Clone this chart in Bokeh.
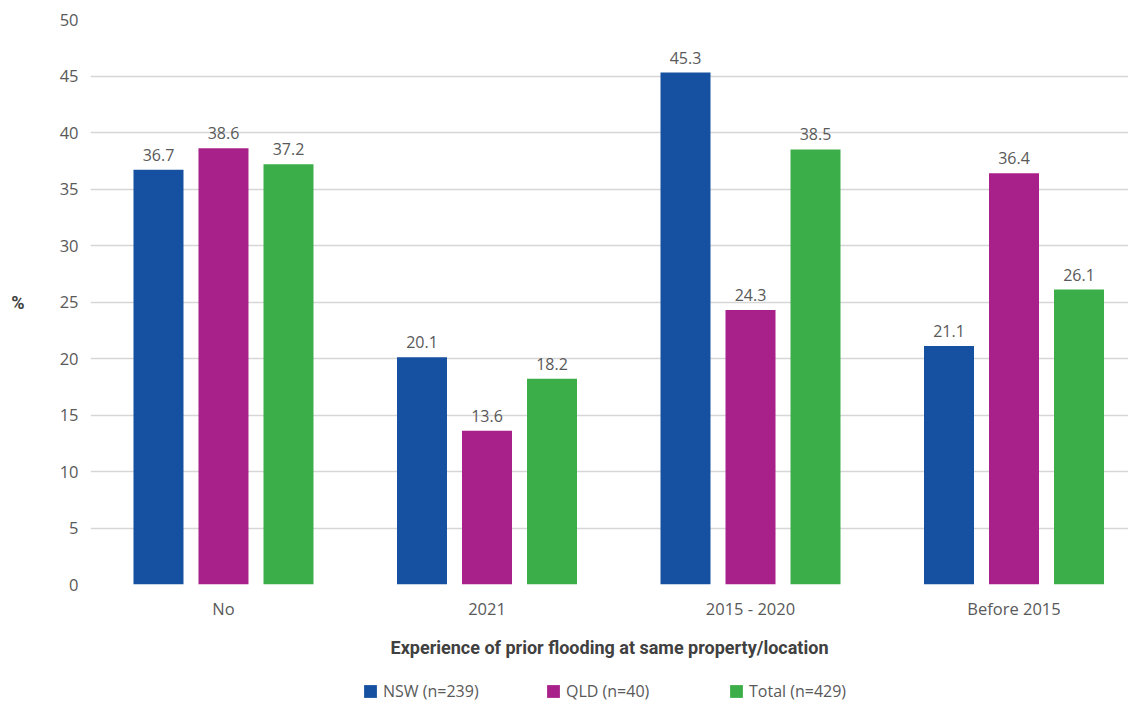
from bokeh.plotting import figure
from bokeh.models import ColumnDataSource, Range1d, FixedTicker, Legend, LegendItem
from bokeh.models import Axis
from bokeh.layouts import column
from bokeh.transform import dodge
from bokeh.core.properties import value
from bokeh.embed import file_html
from bokeh.resources import INLINE

categories = ["No", "2021", "2015 - 2020", "Before 2015"]
nsw = [36.7, 20.1, 45.3, 21.1]
qld = [38.6, 13.6, 24.3, 36.4]
total = [37.2, 18.2, 38.5, 26.1]
series_names = ["NSW (n=239)", "QLD (n=40)", "Total (n=429)"]
colors = ["#1551A0", "#A8218A", "#3CAE49"]
y_ticks = [0, 5, 10, 15, 20, 25, 30, 35, 40, 45, 50]

idx = list(range(len(categories)))
src = ColumnDataSource(dict(idx=idx, nsw=nsw, qld=qld, total=total,
                            nsw_t=[f"{v:.1f}" for v in nsw],
                            qld_t=[f"{v:.1f}" for v in qld],
                            total_t=[f"{v:.1f}" for v in total]))

TEXT = "#595959"
DARK = "#404040"

p = figure(width=1128, height=672, output_backend="svg", toolbar_location=None,
           title=None, x_range=Range1d(-0.5047, 3.4345), y_range=Range1d(0, 50),
           min_border_left=90, min_border_right=0, min_border_top=19,
           min_border_bottom=88)
p.outline_line_color = None
p.background_fill_color = "white"
p.border_fill_color = "white"

step = 65 / 263.5
bw = 50 / 263.5
offsets = [-step, 0, step]
keys = ["nsw", "qld", "total"]
for k, off, c in zip(keys, offsets, colors):
    p.vbar(x=dodge("idx", off, range=p.x_range), top=k, width=bw, bottom=0,
           source=src, fill_color=c, line_color=None)
    p.text(x=dodge("idx", off, range=p.x_range), y=k, text=k + "_t", source=src,
           text_align="center", text_baseline="alphabetic", y_offset=-15,
           text_font=value("Open Sans"), text_font_size="16px", text_color=TEXT)

# axes
p.xaxis.bounds = (-0.5047, 3.367)
p.xaxis.ticker = FixedTicker(ticks=idx)
p.xaxis.major_label_overrides = {i: c for i, c in zip(idx, categories)}
p.xaxis.major_tick_line_color = None
p.xaxis.minor_tick_line_color = None
p.xaxis.major_tick_out = 0
p.xaxis.minor_tick_out = 0
p.xaxis.axis_line_color = None
p.xaxis.major_label_standoff = 12
p.xaxis.major_label_text_font = "Open Sans"
p.xaxis.major_label_text_font_size = "16.5px"
p.xaxis.major_label_text_color = TEXT
p.xaxis.axis_label = "Experience of prior flooding at same property/location"
p.xaxis.axis_label_text_font = "Roboto"
p.xaxis.axis_label_text_font_style = "bold"
p.xaxis.axis_label_text_font_size = "18px"
p.xaxis.axis_label_text_color = DARK
p.xaxis.axis_label_standoff = 14

p.yaxis.ticker = FixedTicker(ticks=y_ticks)
p.yaxis.major_tick_line_color = None
p.yaxis.minor_tick_line_color = None
p.yaxis.major_tick_out = 0
p.yaxis.minor_tick_out = 0
p.yaxis.axis_line_color = None
p.yaxis.major_label_standoff = 12
p.yaxis.major_label_text_font = "Open Sans"
p.yaxis.major_label_text_font_size = "16.5px"
p.yaxis.major_label_text_color = TEXT
p.yaxis.axis_label = "%"
p.yaxis.axis_label_text_font = "Roboto"
p.yaxis.axis_label_text_font_style = "bold"
p.yaxis.axis_label_text_font_size = "18px"
p.yaxis.axis_label_text_color = DARK
p.yaxis.axis_label_standoff = 32
if "axis_label_orientation" in Axis.properties():
    p.yaxis.axis_label_orientation = "horizontal"

p.xgrid.grid_line_color = None
p.ygrid.ticker = FixedTicker(ticks=y_ticks)
p.ygrid.grid_line_color = "#d6d6d6"
p.ygrid.grid_line_width = 1.5

# legend strip below the chart (its series renderers are hidden; only the key shows)
q = figure(width=1128, height=30, output_backend="svg", toolbar_location=None,
           title=None, x_range=Range1d(0, 1), y_range=Range1d(0, 1),
           x_axis_location=None, y_axis_location=None,
           min_border_left=0, min_border_right=0, min_border_top=0,
           min_border_bottom=0)
q.outline_line_color = None
q.grid.visible = False
items = []
for k, c, name in zip(keys, colors, series_names):
    r = q.vbar(x="idx", top=k, width=0.1, source=src, fill_color=c,
               line_color=None, visible=False)
    items.append(LegendItem(label=name, renderers=[r]))

legend = Legend(items=items, orientation="horizontal", location=(272, 0),
                padding=0, margin=0, spacing=55, glyph_width=16, glyph_height=16,
                label_height=16, label_width=107, label_standoff=5,
                label_text_font="Open Sans", label_text_font_size="16px",
                label_text_color=TEXT, border_line_color=None,
                background_fill_alpha=0)
q.add_layout(legend)

layout = column(p, q, spacing=0)
open("out.html", "w").write(file_html(layout, INLINE))
